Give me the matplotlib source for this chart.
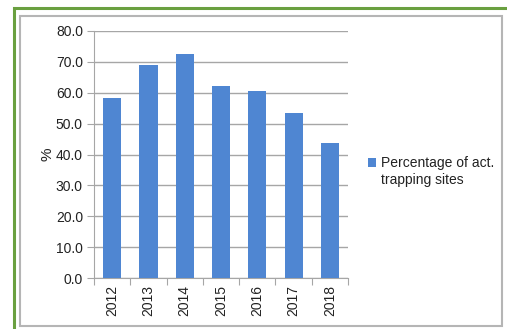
import matplotlib
matplotlib.use("Agg")
import matplotlib.pyplot as plt
from matplotlib.patches import Rectangle

years = ['2012', '2013', '2014', '2015', '2016', '2017', '2018']
percent = [58.3, 68.9, 72.6, 62.1, 60.5, 53.4, 43.7]
series_lines = ['Percentage of act.', 'trapping sites']

plt.rcParams['font.family'] = ['Liberation Sans', 'DejaVu Sans']

W, H = 507, 329
fig = plt.figure(figsize=(W / 100, H / 100), dpi=100)

# outer green frame and inner grey frame
fig.add_artist(Rectangle((14 / W, -0.1), 2.0, (H - 8) / H + 0.1, transform=fig.transFigure,
                         fill=False, edgecolor='#6aa040', linewidth=2.2))
fig.add_artist(Rectangle((20 / W, 1 - 326 / H), (502 - 20) / W, (326 - 16) / H,
                         transform=fig.transFigure, fill=False, edgecolor='#b5b5b5', linewidth=1.5))

ax = fig.add_axes([94 / W, 1 - 278 / H, (348 - 94) / W, (278 - 31) / H])
x = range(len(years))
bars = ax.bar(x, percent, width=0.5, color='#4f86d2', zorder=3)

ax.set_xlim(-0.5, len(years) - 0.5)
ax.set_ylim(0, 80)
ax.set_yticks(range(0, 81, 10))
ax.set_yticklabels([f'{v:.1f}' for v in range(0, 81, 10)], fontsize=10, color='#222222')
ax.grid(axis='y', color='#a6a6a6', linewidth=1.0, zorder=0)

ax.set_xticks([i - 0.5 for i in range(len(years) + 1)])
ax.set_xticklabels([])
ax.set_xticks(list(x), minor=True)
ax.set_xticklabels(years, minor=True, rotation=90, fontsize=10, color='#222222')
ax.tick_params(axis='x', which='minor', length=0, pad=5)
ax.tick_params(axis='x', which='major', length=5, color='#a6a6a6')
ax.tick_params(axis='y', length=5, color='#a6a6a6', pad=3)

for side in ['top', 'right']:
    ax.spines[side].set_visible(False)
for side in ['left', 'bottom']:
    ax.spines[side].set_color('#a6a6a6')

ax.set_ylabel('%', fontsize=11, labelpad=1, color='#222222')

# marker sits next to the first line of the series name, like Excel does
blank = Rectangle((0, 0), 1, 1, visible=False)
leg = ax.legend([bars, blank], series_lines, loc='center left', bbox_to_anchor=(1.03, 0.43),
                frameon=False, fontsize=10, handlelength=0.6, handleheight=0.6,
                handletextpad=0.3, labelspacing=0.2)
plt.setp(leg.get_texts(), color='#222222')

fig.savefig('out.png', dpi=100)
